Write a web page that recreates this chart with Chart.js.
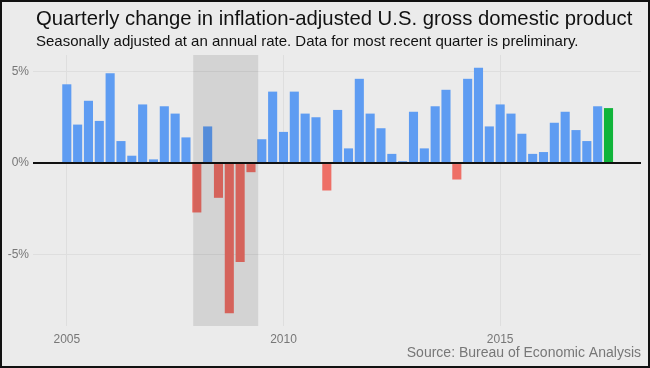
<!DOCTYPE html>
<html>
<head>
<meta charset="utf-8">
<script src="https://cdn.jsdelivr.net/npm/chart.js@4"></script>
<style>
  html, body { margin: 0; padding: 0; background: #ebebeb; }
  #wrap { width: 650px; height: 368px; box-sizing: border-box; border: 2px solid #111; background: #ebebeb; }
  canvas { display: block; }
</style>
</head>
<body>
<div id="wrap"><canvas id="chart" width="646" height="364"></canvas></div>
<script>
// quarters, 2005 Q1 .. 2017 Q3
const quarters = [
  '2005Q1','2005Q2','2005Q3','2005Q4','2006Q1','2006Q2','2006Q3','2006Q4',
  '2007Q1','2007Q2','2007Q3','2007Q4','2008Q1','2008Q2','2008Q3','2008Q4',
  '2009Q1','2009Q2','2009Q3','2009Q4','2010Q1','2010Q2','2010Q3','2010Q4',
  '2011Q1','2011Q2','2011Q3','2011Q4','2012Q1','2012Q2','2012Q3','2012Q4',
  '2013Q1','2013Q2','2013Q3','2013Q4','2014Q1','2014Q2','2014Q3','2014Q4',
  '2015Q1','2015Q2','2015Q3','2015Q4','2016Q1','2016Q2','2016Q3','2016Q4',
  '2017Q1','2017Q2','2017Q3'
];
// annualized % change
const gdpChange = [
  4.3, 2.1, 3.4, 2.3, 4.9, 1.2, 0.4, 3.2,
  0.2, 3.1, 2.7, 1.4, -2.7, 2.0, -1.9, -8.2,
  -5.4, -0.5, 1.3, 3.9, 1.7, 3.9, 2.7, 2.5,
  -1.5, 2.9, 0.8, 4.6, 2.7, 1.9, 0.5, 0.1,
  2.8, 0.8, 3.1, 4.0, -0.9, 4.6, 5.2, 2.0,
  3.2, 2.7, 1.6, 0.5, 0.6, 2.2, 2.8, 1.8,
  1.2, 3.1, 3.0
];
const xTicks = [2005, 2010, 2015];
const yTicks = [-5, 0, 5];
const recession = [2007 + 11/12, 2009 + 5/12]; // Dec 2007 - Jun 2009

const BLUE = '#5e9cf2', RED = '#ee6f66', GREEN = '#10b43a';
const FONT = '"Liberation Sans", Arial, sans-serif';

function quarterToYear(q) {
  return parseInt(q.slice(0, 4)) + (parseInt(q.slice(5)) - 1) / 4;
}

const points = quarters.map((q, i) => ({ x: quarterToYear(q), y: gdpChange[i] }));
const colors = gdpChange.map((v, i) =>
  i === gdpChange.length - 1 ? GREEN : (v < 0 ? RED : BLUE));

const recessionShade = {
  id: 'recessionShade',
  afterDatasetsDraw(chart) {
    const { ctx, chartArea, scales } = chart;
    const x0 = scales.x.getPixelForValue(recession[0]);
    const x1 = scales.x.getPixelForValue(recession[1]);
    ctx.save();
    ctx.fillStyle = 'rgba(0,0,0,0.1)';
    ctx.fillRect(x0, chartArea.top, x1 - x0, chartArea.bottom - chartArea.top);
    ctx.restore();
  }
};

const texts = {
  id: 'texts',
  afterDraw(chart) {
    const { ctx, chartArea } = chart;
    ctx.save();
    ctx.textBaseline = 'alphabetic';
    ctx.fillStyle = '#111';
    ctx.textAlign = 'left';
    ctx.font = '20.3px ' + FONT;
    ctx.fillText('Quarterly change in inflation-adjusted U.S. gross domestic product', 34, 23);
    ctx.font = '15px ' + FONT;
    ctx.fillText('Seasonally adjusted at an annual rate. Data for most recent quarter is preliminary.', 34, 44);
    ctx.fillStyle = '#777';
    ctx.font = '14px ' + FONT;
    ctx.textAlign = 'right';
    ctx.fillText('Source: Bureau of Economic Analysis', chartArea.right, 355);
    ctx.restore();
  }
};

new Chart(document.getElementById('chart'), {
  type: 'bar',
  data: {
    datasets: [{
      data: points,
      backgroundColor: colors,
      borderWidth: 0,
      categoryPercentage: 1,
      barPercentage: 0.84
    }]
  },
  plugins: [recessionShade, texts],
  options: {
    responsive: false,
    animation: false,
    layout: { padding: { top: 53, right: 7, left: 0, bottom: 0 } },
    plugins: { legend: { display: false }, tooltip: { enabled: false } },
    scales: {
      x: {
        type: 'linear',
        offset: false,
        min: 2004.22,
        max: 2018.25,
        afterFit: s => { s.height = 40; },
        afterBuildTicks: s => { s.ticks = xTicks.map(v => ({ value: v })); },
        grid: { offset: false, color: '#dedede', lineWidth: 1, drawTicks: false },
        border: { display: false },
        ticks: {
          padding: 6,
          color: '#777',
          font: { family: FONT, size: 12 },
          callback: v => String(v)
        }
      },
      y: {
        min: -8.9,
        max: 5.9,
        afterFit: s => { s.width = 31; },
        afterBuildTicks: s => { s.ticks = yTicks.map(v => ({ value: v })); },
        grid: {
          color: c => c.tick && c.tick.value === 0 ? '#111' : '#dedede',
          lineWidth: c => c.tick && c.tick.value === 0 ? 2 : 1,
          drawTicks: false
        },
        border: { display: false },
        ticks: {
          padding: 4,
          color: '#777',
          font: { family: FONT, size: 12 },
          callback: v => v + '%'
        }
      }
    }
  }
});
</script>
</body>
</html>
